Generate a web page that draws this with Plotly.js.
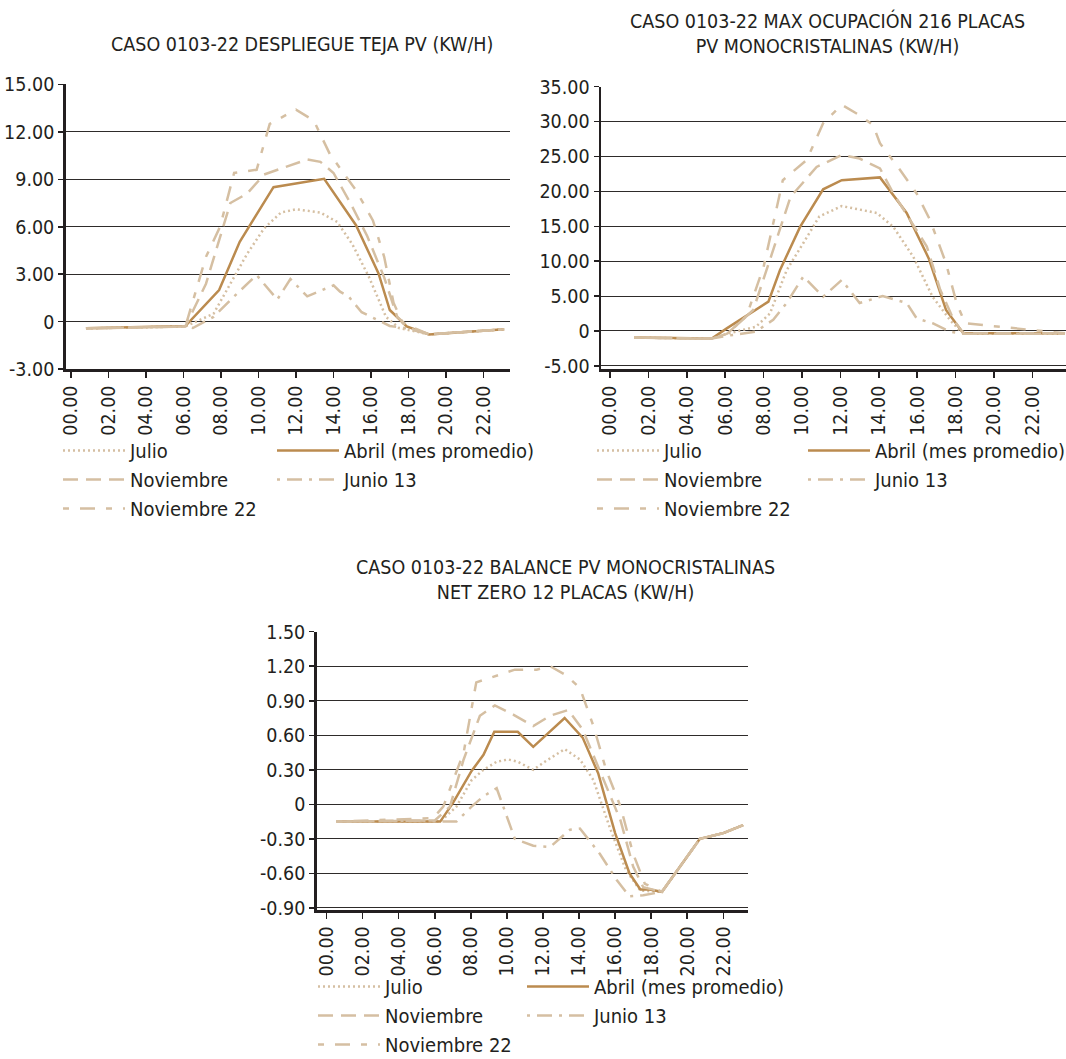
<!DOCTYPE html>
<html>
<head>
<meta charset="utf-8">
<script src="https://cdn.plot.ly/plotly-3.0.1.min.js"></script>
<style>html,body{margin:0;padding:0;background:#fff;}#chart{width:1066px;height:1059px;}</style>
</head>
<body>
<div id="chart"></div>
<script>
// ---------- DATA ----------
const seriesNames = ["Julio", "Abril (mes promedio)", "Noviembre", "Junio 13", "Noviembre 22"];
const xTickVals = [0, 2, 4, 6, 8, 10, 12, 14, 16, 18, 20, 22];
const xTickText = ["00.00", "02.00", "04.00", "06.00", "08.00", "10.00", "12.00", "14.00", "16.00", "18.00", "20.00", "22.00"];

const titleA = "CASO 0103-22 DESPLIEGUE TEJA PV (KW/H)";
const titleB = "CASO 0103-22 MAX OCUPACIÓN 216 PLACAS<br>PV MONOCRISTALINAS (KW/H)";
const titleC = "CASO 0103-22 BALANCE PV MONOCRISTALINAS<br>NET ZERO 12 PLACAS (KW/H)";

const yTickValsA = [-3, 0, 3, 6, 9, 12, 15];
const yTickTextA = ["-3.00", "0", "3.00", "6.00", "9.00", "12.00", "15.00"];
const yTickValsB = [-5, 0, 5, 10, 15, 20, 25, 30, 35];
const yTickTextB = ["-5.00", "0", "5.00", "10.00", "15.00", "20.00", "25.00", "30.00", "35.00"];
const yTickValsC = [-0.9, -0.6, -0.3, 0, 0.3, 0.6, 0.9, 1.2, 1.5];
const yTickTextC = ["-0.90", "-0.60", "-0.30", "0", "0.30", "0.60", "0.90", "1.20", "1.50"];

// Chart A: Despliegue teja PV
const A_julio_h = [0.8, 6.1, 7.6, 8.6, 9.4, 10.3, 11.2, 12.0, 13.3, 14.2, 15.0, 15.9, 16.8, 17.5, 19.1, 23.1];
const A_julio_v = [-0.42, -0.3, 0.5, 2.6, 4.3, 5.9, 6.9, 7.1, 6.9, 6.3, 4.9, 2.8, 0.3, -0.4, -0.8, -0.48];
const A_abril_h = [0.8, 6.1, 7.9, 9.0, 10.8, 13.5, 15.2, 16.4, 17.0, 17.9, 19.1, 23.1];
const A_abril_v = [-0.42, -0.27, 2.0, 5.05, 8.5, 9.03, 6.1, 3.05, 0.74, -0.3, -0.8, -0.48];
const A_nov_h = [0.8, 6.1, 7.2, 8.5, 9.4, 10.3, 11.5, 12.6, 13.3, 14.0, 14.9, 15.8, 16.7, 17.4, 18.1, 19.1, 23.1];
const A_nov_v = [-0.42, -0.3, 2.4, 7.5, 8.1, 9.3, 9.8, 10.25, 10.1, 9.4, 7.5, 5.4, 2.8, 0.3, -0.42, -0.8, -0.48];
const A_jun_h = [0.8, 6.1, 6.5, 7.6, 8.7, 9.9, 11.0, 11.7, 12.6, 14.0, 14.35, 14.8, 15.5, 17.0, 17.9, 19.1, 23.1];
const A_jun_v = [-0.42, -0.3, -0.4, 0.3, 1.6, 2.95, 1.4, 2.7, 1.6, 2.3, 1.9, 1.6, 0.6, -0.27, -0.42, -0.8, -0.48];
const A_nov22_h = [0.8, 6.1, 7.2, 7.95, 8.7, 9.9, 10.6, 12.0, 12.95, 13.8, 15.2, 16.1, 16.7, 17.2, 17.7, 19.1, 23.1];
const A_nov22_v = [-0.42, -0.3, 4.1, 6.0, 9.4, 9.6, 12.5, 13.4, 12.7, 10.6, 8.3, 6.4, 4.1, 1.2, -0.1, -0.8, -0.48];

// Chart B: Max ocupación 216 placas
const B_julio_h = [1.27, 5.3, 6.1, 7.6, 8.33, 9.2, 10.07, 10.9, 12.07, 13.9, 14.76, 15.8, 16.8, 17.7, 18.2, 18.6, 23.7];
const B_julio_v = [-0.96, -1.1, -0.4, 0.6, 2.5, 8.7, 12.6, 16.4, 17.9, 16.9, 14.9, 10.6, 4.9, 1.6, 0.1, -0.4, -0.4];
const B_abril_h = [1.27, 5.3, 6.1, 8.25, 8.85, 9.9, 11.1, 12.07, 14.06, 15.45, 16.6, 17.5, 18.4, 23.7];
const B_abril_v = [-0.96, -1.1, 0.4, 4.2, 8.7, 14.9, 20.3, 21.6, 22.0, 16.9, 10.4, 3.0, -0.35, -0.35];
const B_nov_h = [1.27, 5.3, 6.1, 7.46, 8.33, 9.4, 10.76, 12.07, 13.0, 14.06, 14.76, 15.97, 16.5, 17.2, 17.9, 18.4, 23.7];
const B_nov_v = [-0.96, -1.1, -0.4, 3.0, 10.2, 19.2, 23.5, 25.2, 24.7, 23.3, 19.7, 14.5, 12.1, 5.9, 1.6, -0.35, -0.35];
const B_jun_h = [1.27, 5.3, 6.4, 7.6, 8.5, 9.2, 10.07, 11.1, 12.07, 13.0, 14.2, 15.45, 15.97, 16.8, 17.7, 18.4, 23.7];
const B_jun_v = [-0.96, -1.1, -0.57, -0.1, 1.6, 4.0, 7.8, 4.9, 7.3, 4.0, 5.0, 4.0, 1.8, 1.1, -0.1, -0.4, -0.4];
const B_nov22_h = [1.27, 5.3, 6.1, 7.1, 8.0, 9.0, 10.24, 11.1, 12.07, 13.0, 13.7, 14.06, 15.1, 15.97, 16.67, 17.5, 18.05, 18.5, 23.7];
const B_nov22_v = [-0.96, -1.1, -0.4, 2.05, 9.2, 21.6, 24.5, 29.75, 32.4, 30.9, 29.5, 26.9, 23.1, 19.7, 15.9, 9.7, 4.0, 1.1, -0.35];

// Chart C: Balance net zero 12 placas
const C_julio_h = [0.55, 6.3, 7.2, 8.04, 8.7, 9.43, 10.07, 10.6, 11.46, 12.1, 13.2, 14.05, 14.8, 15.7, 16.6, 17.4, 18.6, 20.7, 22.0, 23.1];
const C_julio_v = [-0.15, -0.15, -0.02, 0.21, 0.3, 0.37, 0.39, 0.37, 0.3, 0.37, 0.48, 0.39, 0.21, -0.2, -0.57, -0.75, -0.76, -0.3, -0.25, -0.18];
const C_abril_h = [0.55, 6.3, 7.0, 8.04, 8.7, 9.3, 10.6, 11.46, 13.2, 14.2, 15.06, 16.0, 16.8, 17.4, 17.9, 18.6, 20.7, 22.0, 23.1];
const C_abril_v = [-0.15, -0.15, 0.01, 0.29, 0.43, 0.63, 0.63, 0.5, 0.75, 0.58, 0.27, -0.25, -0.6, -0.74, -0.74, -0.76, -0.3, -0.25, -0.18];
const C_nov_h = [0.55, 6.0, 6.84, 7.6, 8.5, 9.33, 10.35, 11.46, 12.4, 13.4, 14.2, 15.3, 16.3, 17.0, 17.56, 18.6, 20.7, 22.0, 23.1];
const C_nov_v = [-0.15, -0.14, -0.02, 0.39, 0.77, 0.86, 0.78, 0.68, 0.77, 0.82, 0.65, 0.24, -0.14, -0.54, -0.72, -0.76, -0.3, -0.25, -0.18];
const C_jun_h = [0.55, 5.2, 6.3, 7.2, 8.04, 8.7, 9.43, 10.44, 11.46, 12.4, 13.5, 14.05, 15.15, 16.1, 16.8, 17.56, 18.6, 20.7, 22.0, 23.1];
const C_jun_v = [-0.15, -0.14, -0.15, -0.15, -0.02, 0.07, 0.14, -0.3, -0.36, -0.37, -0.22, -0.21, -0.43, -0.66, -0.8, -0.79, -0.76, -0.3, -0.25, -0.18];
const C_nov22_h = [0.55, 5.9, 6.47, 7.6, 8.3, 9.43, 10.44, 11.65, 12.4, 13.3, 14.05, 14.8, 15.5, 16.3, 17.0, 17.65, 18.6, 20.7, 22.0, 23.1];
const C_nov22_v = [-0.15, -0.12, -0.02, 0.45, 1.06, 1.12, 1.17, 1.17, 1.2, 1.12, 1.01, 0.68, 0.3, -0.02, -0.43, -0.69, -0.76, -0.3, -0.25, -0.18];

// ---------- STYLE ----------
const FONT = "'Liberation Sans Narrow', 'DejaVu Sans Condensed', 'Roboto', sans-serif";
const LIGHT = "#d5bfa2";
const DARK = "#bb8b4f";
const INK = "#231f20";
const styles = [
  {color: LIGHT, dash: "2px,3px", width: 2.5},
  {color: DARK, dash: "solid", width: 2.5},
  {color: LIGHT, dash: "15px,8px", width: 2.5},
  {color: LIGHT, dash: "3px,7px,15px,7px", width: 2.5},
  {color: LIGHT, dash: "6px,11px,15px,11px", width: 2.5}
];

const charts = [
  {xa: "x", ya: "y", data: [[A_julio_h, A_julio_v], [A_abril_h, A_abril_v], [A_nov_h, A_nov_v], [A_jun_h, A_jun_v], [A_nov22_h, A_nov22_v]], legs: ["legend", "legend2"]},
  {xa: "x2", ya: "y2", data: [[B_julio_h, B_julio_v], [B_abril_h, B_abril_v], [B_nov_h, B_nov_v], [B_jun_h, B_jun_v], [B_nov22_h, B_nov22_v]], legs: ["legend3", "legend4"]},
  {xa: "x3", ya: "y3", data: [[C_julio_h, C_julio_v], [C_abril_h, C_abril_v], [C_nov_h, C_nov_v], [C_jun_h, C_jun_v], [C_nov22_h, C_nov22_v]], legs: ["legend5", "legend6"]}
];
const colOf = [0, 1, 0, 1, 0];

const traces = [];
charts.forEach(c => {
  c.data.forEach((d, i) => {
    traces.push({
      type: "scatter", mode: "lines",
      x: d[0], y: d[1],
      xaxis: c.xa, yaxis: c.ya,
      name: seriesNames[i],
      legend: c.legs[colOf[i]],
      line: {color: styles[i].color, dash: styles[i].dash, width: styles[i].width},
      hoverinfo: "skip"
    });
  });
});

const W = 1066, H = 1059;
function px2x(p) { return p / W; }
function px2y(p) { return 1 - p / H; }

function xaxisDef(l, r, range, anchor) {
  return {
    domain: [px2x(l), px2x(r)], range: range, anchor: anchor,
    tickvals: xTickVals, ticktext: xTickText, tickangle: -90,
    ticks: "outside", ticklen: 6, tickwidth: 1.5, tickcolor: INK,
    showline: true, linewidth: 2.5, linecolor: INK,
    showgrid: false, zeroline: false, automargin: false,
    tickfont: {family: FONT, size: 19.5, color: INK}, fixedrange: true
  };
}
function yaxisDef(t, b, range, vals, text, anchor) {
  return {
    domain: [px2y(b), px2y(t)], range: range, anchor: anchor,
    tickvals: vals, ticktext: text,
    ticks: "outside", ticklen: 5, tickwidth: 1.5, tickcolor: INK,
    showline: true, linewidth: 2.5, linecolor: INK,
    showgrid: true, gridcolor: "#2e2b2a", gridwidth: 1,
    zeroline: false, automargin: false,
    tickfont: {family: FONT, size: 19.5, color: INK}, fixedrange: true
  };
}
function legendDef(xp, yp) {
  return {
    x: px2x(xp), y: px2y(yp), xanchor: "left", yanchor: "top",
    orientation: "v", bgcolor: "rgba(0,0,0,0)", borderwidth: 0,
    font: {family: FONT, size: 20, color: INK},
    tracegroupgap: 0, itemwidth: 62, itemclick: false, itemdoubleclick: false
  };
}

const layout = {
  width: W, height: H,
  margin: {l: 0, r: 0, t: 0, b: 0, pad: 0, autoexpand: false},
  paper_bgcolor: "#ffffff", plot_bgcolor: "#ffffff",
  font: {family: FONT, color: INK},
  showlegend: true,
  xaxis: xaxisDef(65.7, 510, [-0.28, 23.41], "y"),
  yaxis: yaxisDef(84.3, 369.2, [-3, 15], yTickValsA, yTickTextA, "x"),
  xaxis2: xaxisDef(601, 1066, [-0.47, 23.75], "y2"),
  yaxis2: yaxisDef(86.7, 369.3, [-5.5, 35], yTickValsB, yTickTextB, "x2"),
  xaxis3: xaxisDef(316.7, 748, [-0.55, 23.37], "y3"),
  yaxis3: yaxisDef(631.7, 910, [-0.918, 1.5], yTickValsC, yTickTextC, "x3"),
  legend: legendDef(58, 431),
  legend2: legendDef(272, 431),
  legend3: legendDef(592, 431),
  legend4: legendDef(803, 431),
  legend5: legendDef(313, 967),
  legend6: legendDef(522, 967),
  annotations: [
    {text: titleA, xref: "paper", yref: "paper", x: px2x(302), y: px2y(45), xanchor: "center", yanchor: "middle", showarrow: false, font: {family: FONT, size: 19.5, color: INK}},
    {text: titleB, xref: "paper", yref: "paper", x: px2x(827), y: px2y(33.5), xanchor: "center", yanchor: "middle", showarrow: false, font: {family: FONT, size: 19.5, color: INK}},
    {text: titleC, xref: "paper", yref: "paper", x: px2x(565), y: px2y(579.5), xanchor: "center", yanchor: "middle", showarrow: false, font: {family: FONT, size: 19.5, color: INK}}
  ]
};

Plotly.newPlot("chart", traces, layout, {displayModeBar: false, staticPlot: true});
</script>
</body>
</html>
